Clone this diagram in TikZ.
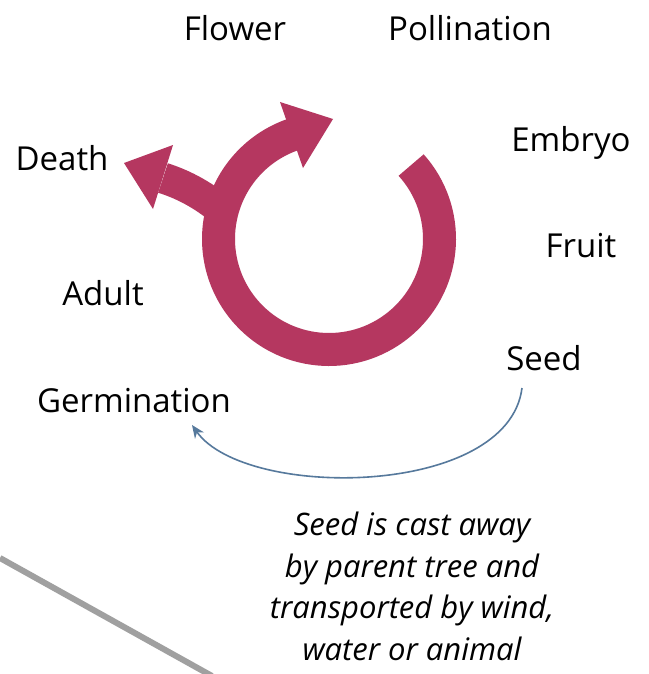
\documentclass[tikz,border=0pt]{standalone}
\usepackage{fontspec}
\setmainfont{Open Sans}
\usetikzlibrary{arrows.meta}
\definecolor{ringred}{RGB}{181,55,96}
\definecolor{flowblue}{RGB}{86,121,156}
\definecolor{edgegray}{RGB}{160,160,160}
\begin{document}
\begin{tikzpicture}[x=1pt,y=-1pt,
  lbl/.style={font=\fontsize{33}{36}\selectfont, inner sep=0pt, anchor=base},
  note/.style={font=\fontsize{31}{41.5}\selectfont\itshape, inner sep=0pt, align=center, anchor=north},
  band/.style={draw=ringred, line width=33pt},
  head/.style={fill=ringred, draw=none},
  flow/.style={draw=flowblue, line width=1.6pt, -{Stealth[length=13pt,width=11pt]}}]
\useasboundingbox (0,0) rectangle (648,674);
\fill[white] (0,0) rectangle (648,674);
% gray edge line
\draw[edgegray, line width=6pt] (0,558) -- (212,676);
% labels
\node[lbl] (flower) at (235,41) {Flower};
\node[lbl] (pollination) at (470,41) {Pollination};
\node[lbl] (embryo) at (571,151) {Embryo};
\node[lbl] (death) at (62,170) {Death};
\node[lbl] (fruit) at (581,257) {Fruit};
\node[lbl] (adult) at (103,305) {Adult};
\node[lbl] (seed) at (544,370) {Seed};
\node[lbl] (germination) at (134,412) {Germination};
\node[note] (note) at (412,512) {Seed is cast away\\by parent tree and\\transported by wind,\\water or animal};
% ring
\coordinate (rc) at (329,239);
\draw[band] ([shift={(-42:110.5)}]rc) arc[start angle=-42, end angle=251, radius=110.5];
\fill[head] (280,102) -- (333,119) -- (303,168) -- cycle;
% death branch
\draw[band, line width=31pt] (163,178) .. controls (185,185) and (205,196) .. (226,214);
\fill[head] (173,145) -- (124,163) -- (153,209) -- cycle;
% seed dispersal arrow
\coordinate (seedout) at (522,388);
\coordinate (germin) at (192,425);
\draw[flow] (seedout) .. controls (508,498) and (245,500) .. (germin);
\end{tikzpicture}
\end{document}
